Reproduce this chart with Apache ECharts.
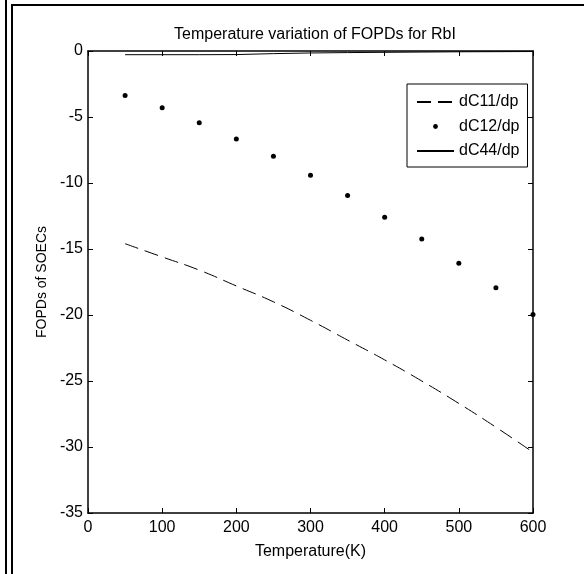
<!DOCTYPE html>
<html>
<head>
<meta charset="utf-8">
<script src="https://cdn.jsdelivr.net/npm/echarts@6/dist/echarts.min.js"></script>
<style>
  html, body { margin: 0; padding: 0; background: #fff; }
  #chart { width: 584px; height: 574px; }
</style>
</head>
<body>
<div id="chart"></div>
<script>
// values
const temps = [50, 100, 150, 200, 250, 300, 350, 400, 450, 500, 550, 600];
const dC11 = [-14.6, -15.6, -16.6, -17.8, -19.0, -20.4, -21.9, -23.4, -25.0, -26.7, -28.5, -30.4];
const dC12 = [-3.38, -4.29, -5.43, -6.66, -7.98, -9.42, -10.95, -12.6, -14.24, -16.08, -17.93, -19.97];
const dC44 = [-0.28, -0.28, -0.28, -0.27, -0.2, -0.15, -0.12, -0.1, -0.08, -0.06, -0.05, -0.04];
const seriesNames = ["dC11/dp", "dC12/dp", "dC44/dp"];
const xTicks = [0, 600, 100];
const yTicks = [-35, 0, 5];

const narrow = '"Liberation Sans Narrow", "Liberation Sans", Arial, sans-serif';
const pair = (vals) => temps.map((t, i) => [t, vals[i]]);

const chart = echarts.init(document.getElementById("chart"), null, { renderer: "canvas" });

const axisBase = {
  type: "value",
  axisLine: { show: true, onZero: false, lineStyle: { color: "#000", width: 1.5 } },
  axisTick: { show: true, inside: true, length: 5, lineStyle: { color: "#000", width: 1 } },
  splitLine: { show: false },
};

chart.setOption({
  backgroundColor: "#fff",
  animation: false,
  title: {
    text: "Temperature variation of FOPDs for RbI",
    left: 310,
    top: 22,
    textAlign: "center",
    textStyle: { color: "#000", fontFamily: narrow, fontSize: 16, fontWeight: "normal" },
  },
  legend: {
    orient: "vertical",
    left: 407,
    top: 84,
    padding: [10, 8, 8, 9],
    itemWidth: 37,
    itemHeight: 6,
    itemGap: 8.5,
    borderColor: "#000",
    borderWidth: 1,
    backgroundColor: "#fff",
    // line entries show only their line, the dot entry only its dot
    data: [
      { name: seriesNames[0], itemStyle: { opacity: 0 } },
      { name: seriesNames[1] },
      { name: seriesNames[2], itemStyle: { opacity: 0 } },
    ],
    textStyle: { color: "#000", fontFamily: narrow, fontSize: 16, lineHeight: 16 },
  },
  grid: { left: 88, right: 51, top: 51, bottom: 61 },
  xAxis: [
    {
      ...axisBase,
      position: "bottom",
      min: xTicks[0],
      max: xTicks[1],
      interval: xTicks[2],
      axisLabel: { color: "#000", fontFamily: narrow, fontSize: 16, margin: 7 },
      name: "Temperature(K)",
      nameLocation: "middle",
      nameGap: 31,
      nameTextStyle: { color: "#000", fontFamily: narrow, fontSize: 16 },
    },
    {
      ...axisBase,
      position: "top",
      min: xTicks[0],
      max: xTicks[1],
      interval: xTicks[2],
      axisLabel: { show: false },
    },
  ],
  yAxis: [
    {
      ...axisBase,
      position: "left",
      min: yTicks[0],
      max: yTicks[1],
      interval: yTicks[2],
      axisLabel: { color: "#000", fontFamily: narrow, fontSize: 16, margin: 5 },
      name: "FOPDs of SOECs",
      nameLocation: "middle",
      nameGap: 34,
      nameTextStyle: { color: "#000", fontFamily: '"Liberation Sans", Arial, sans-serif', fontSize: 14 },
    },
    {
      ...axisBase,
      position: "right",
      min: yTicks[0],
      max: yTicks[1],
      interval: yTicks[2],
      axisLabel: { show: false },
    },
  ],
  graphic: [
    { type: "line", shape: { x1: 6, y1: 0, x2: 6, y2: 574 }, style: { stroke: "#000", lineWidth: 2 } },
    { type: "line", shape: { x1: 12, y1: 5, x2: 12, y2: 574 }, style: { stroke: "#000", lineWidth: 2 } },
    { type: "line", shape: { x1: 11, y1: 5, x2: 584, y2: 5 }, style: { stroke: "#000", lineWidth: 2 } },
  ],
  series: [
    {
      name: seriesNames[0],
      type: "line",
      data: pair(dC11),
      symbol: "none",
      smooth: true,
      color: "#000",
      lineStyle: { color: "#000", width: 1, type: [14, 7] },
    },
    {
      name: seriesNames[1],
      type: "line",
      data: pair(dC12),
      symbol: "circle",
      symbolSize: 5,
      color: "#000",
      itemStyle: { color: "#000" },
      lineStyle: { opacity: 0 },
    },
    {
      name: seriesNames[2],
      type: "line",
      data: pair(dC44),
      symbol: "none",
      color: "#000",
      lineStyle: { color: "#000", width: 1 },
    },
  ],
});
</script>
</body>
</html>
